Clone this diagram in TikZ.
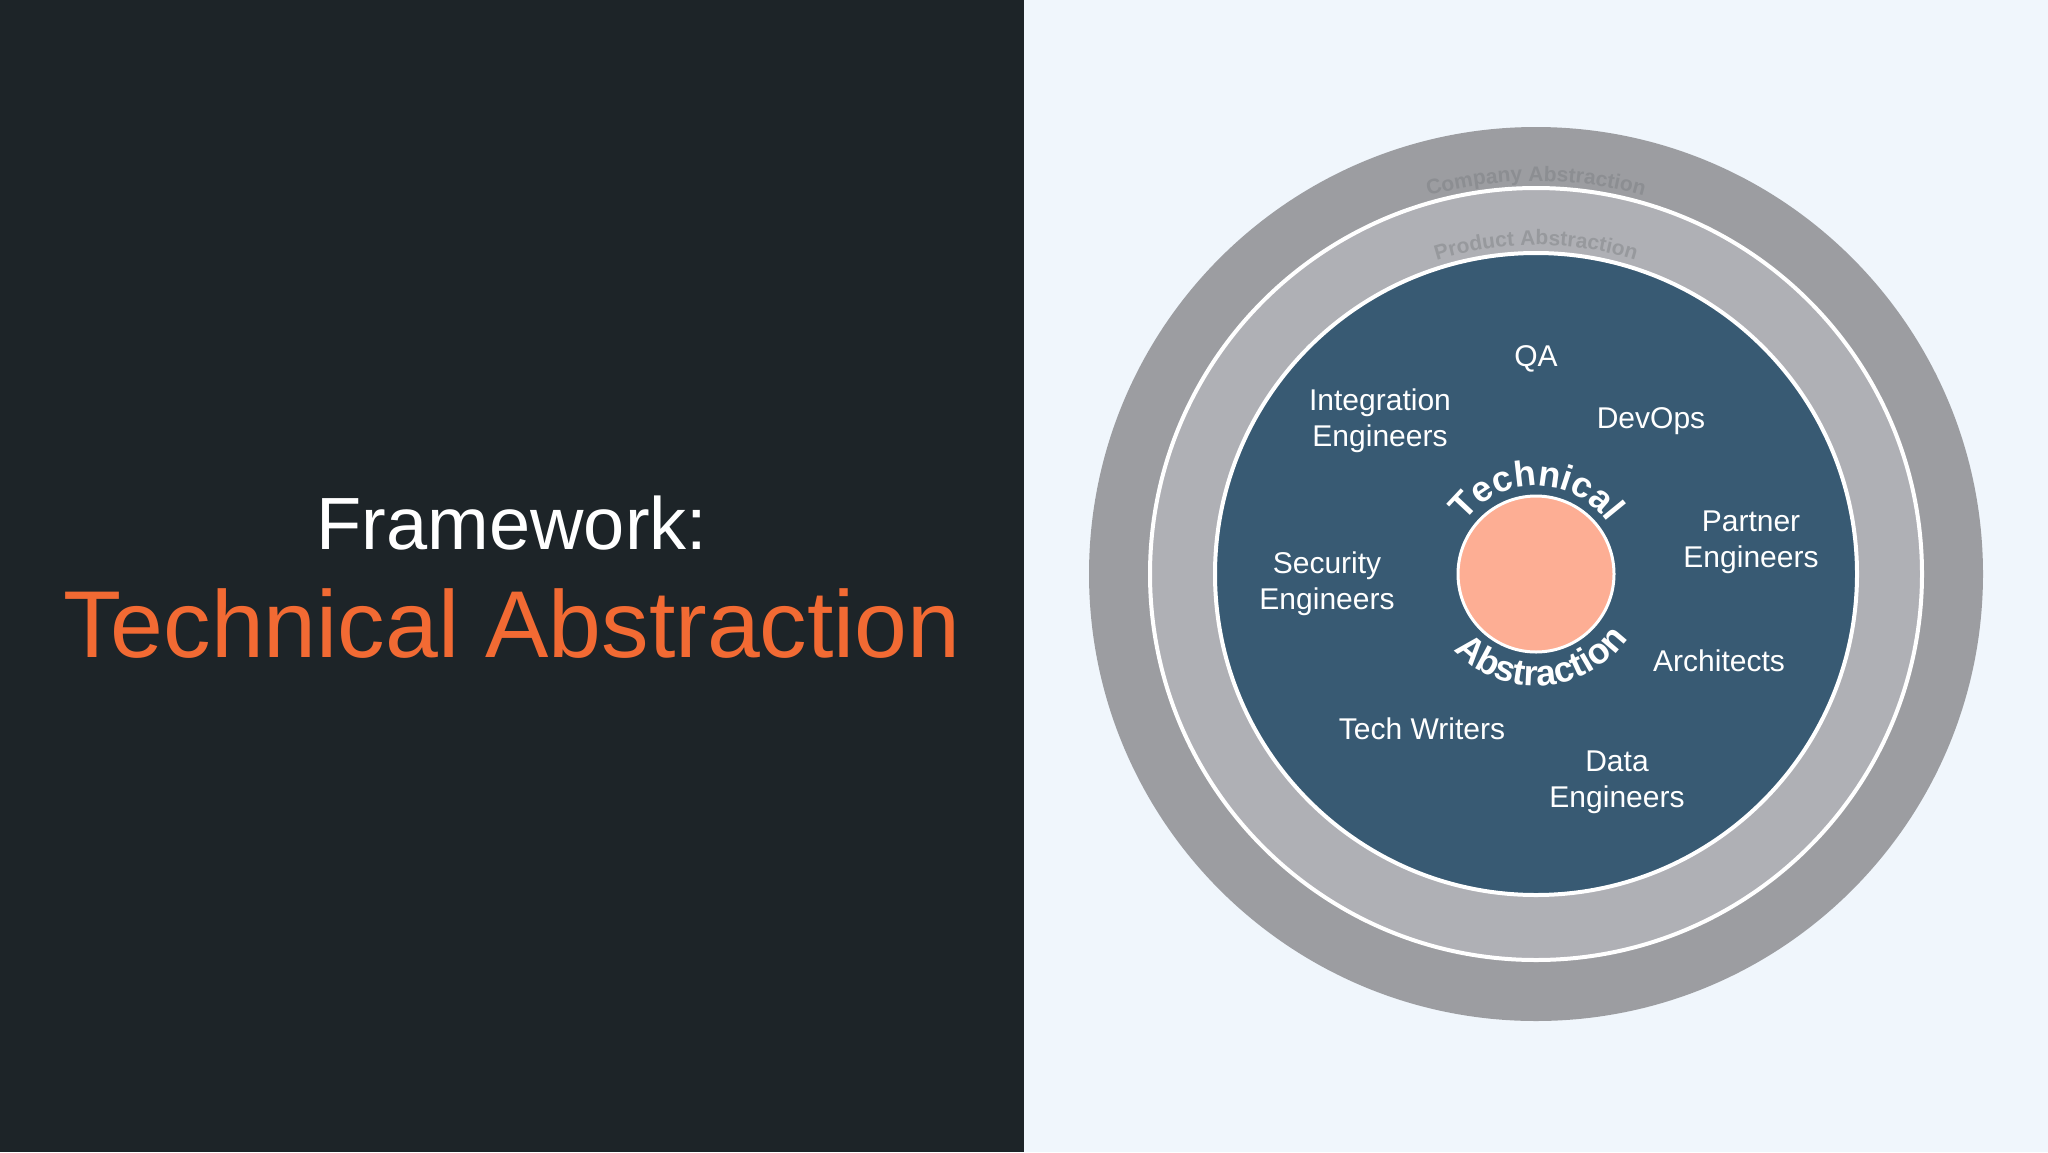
\documentclass[tikz,border=0pt]{standalone}
\usepackage{fontspec}
\setmainfont{Liberation Sans}
\usetikzlibrary{decorations.text}

\definecolor{slate}{HTML}{1D2428}
\definecolor{paper}{HTML}{F0F6FC}
\definecolor{titleorange}{HTML}{F26A33}
\definecolor{ringout}{HTML}{9C9DA1}
\definecolor{ringin}{HTML}{AFB0B5}
\definecolor{core}{HTML}{385A73}
\definecolor{peach}{HTML}{FDAE94}
\definecolor{companygray}{HTML}{8C8E92}
\definecolor{productgray}{HTML}{97999D}

\tikzset{
    role/.style={text=white, align=center, font=\fontsize{30}{36}\selectfont},
    arclabel/.style 2 args={decorate, decoration={text along path, text align=center,
        text color=#1, text={#2}}},
}

\begin{document}
\begin{tikzpicture}[x=1pt,y=1pt]
    \useasboundingbox (0,0) rectangle (2048,-1152);
    \fill[slate] (0,0) rectangle (1024,-1152);
    \fill[paper] (1024,0) rectangle (2048,-1152);

    \node[text=white, font=\fontsize{74}{89}\selectfont, anchor=base] (frame) at (512,-549) {Framework:};
    \node[text=titleorange, font=\fontsize{95}{114}\selectfont, anchor=base] (title) at (512,-657) {Technical Abstraction};

    \coordinate (c) at (1536,-574);
    \fill[ringout] (c) circle[radius=447];
    \draw[white, line width=4, fill=ringin] (c) circle[radius=386];
    \draw[white, line width=4, fill=core] (c) circle[radius=321];
    \draw[white, line width=3, fill=peach] (c) circle[radius=78];

    \path[arclabel={companygray}{|\fontsize{21}{21}\selectfont\bfseries|Company Abstraction}]
        ([shift={(120:393)}]c) arc[start angle=120, end angle=60, radius=393];
    \path[arclabel={productgray}{|\fontsize{21}{21}\selectfont\bfseries|Product Abstraction}]
        ([shift={(120:329)}]c) arc[start angle=120, end angle=60, radius=329];
    \path[arclabel={white}{|\fontsize{36}{36}\selectfont\bfseries|Technical}]
        ([shift={(170:88)}]c) arc[start angle=170, end angle=10, radius=88];
    \path[arclabel={white}{|\fontsize{36}{36}\selectfont\bfseries|Abstraction}]
        ([shift={(190:112)}]c) arc[start angle=190, end angle=358, radius=112];

    \node[role] (qa) at (1536,-359) {QA};
    \node[role] (integration) at (1380,-421) {Integration\\Engineers};
    \node[role] (devops) at (1651,-421) {DevOps};
    \node[role] (partner) at (1751,-542) {Partner\\Engineers};
    \node[role] (security) at (1327,-584) {Security\\Engineers};
    \node[role] (architects) at (1719,-661) {Architects};
    \node[role] (writers) at (1422,-729) {Tech Writers};
    \node[role] (data) at (1617,-782) {Data\\Engineers};
\end{tikzpicture}
\end{document}
